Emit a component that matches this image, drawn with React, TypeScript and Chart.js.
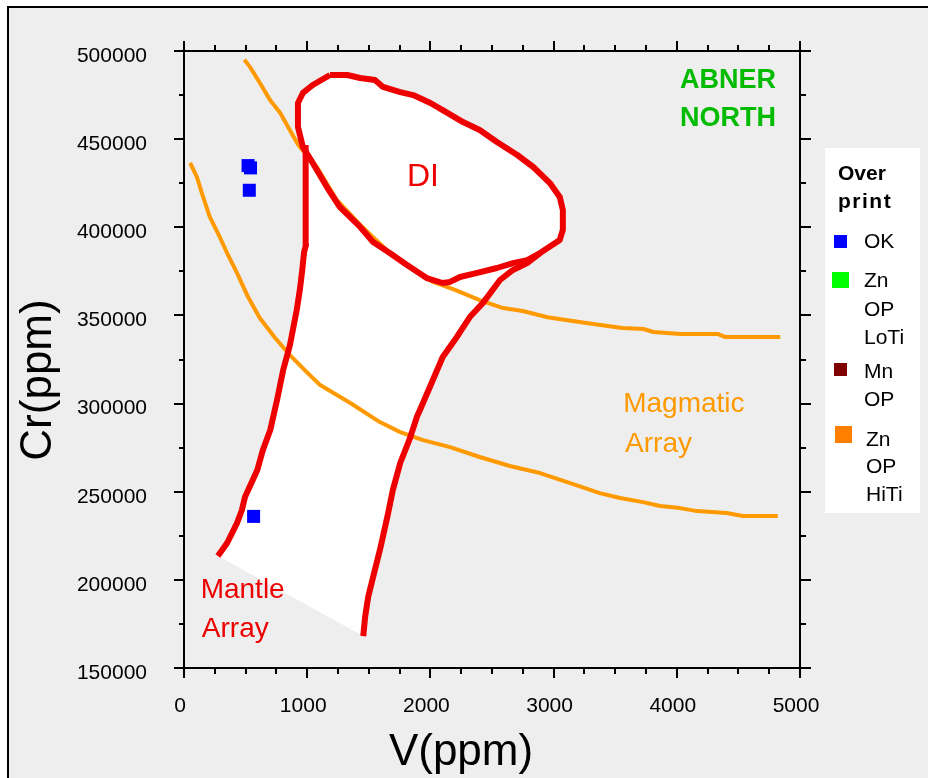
import React, { useEffect, useRef } from "react";
import { Chart, registerables } from "chart.js";

Chart.register(...registerables);

const FONT = '"Liberation Sans", Arial, Helvetica, sans-serif';

// ---- axes ----
const xMin = 0;
const xMax = 5000;
const xStep = 1000;
const xMinorStep = 250;
const yMin = 150000;
const yMax = 500000;
const yStep = 50000;
const yMinorStep = 25000;
const xTitle = "V(ppm)";
const yTitle = "Cr(ppm)";

// ---- Magmatic array, upper curve ----
const magUpperV = [490, 535, 615, 700, 780, 860, 925, 1080, 1240, 1450, 1670, 2020, 2200, 2400, 2590, 2750, 2950, 3210, 3380, 3560, 3730, 3810, 4030, 4330, 4390, 4840];
const magUpperCr = [495000, 491000, 482000, 472000, 465000, 455000, 447000, 434000, 415500, 400000, 385500, 369000, 364500, 358700, 354200, 352500, 349000, 346300, 344600, 342900, 342300, 340600, 339500, 339500, 337800, 337800];

// ---- Magmatic array, lower curve ----
const magLowerV = [50, 105, 155, 210, 290, 350, 430, 520, 615, 740, 860, 980, 1105, 1350, 1590, 1755, 1940, 2160, 2400, 2645, 2890, 3135, 3375, 3540, 3725, 3865, 4025, 4165, 4405, 4535, 4820];
const magLowerCr = [436500, 428500, 417200, 405800, 394500, 385400, 374100, 360400, 348500, 337200, 327500, 319000, 310500, 300300, 289500, 283800, 279300, 275300, 269700, 264600, 260600, 254900, 249200, 246400, 244100, 241900, 240700, 239000, 237900, 236200, 236200];

// ---- Mantle array, left boundary (bottom -> top) ----
const mantleLeftV = [275, 350, 430, 470, 495, 595, 640, 700, 755, 805, 860, 915, 940, 960, 975, 990, 990, 985];
const mantleLeftCr = [213500, 220900, 232200, 239600, 247000, 262300, 273600, 285000, 302000, 319000, 333200, 353100, 364400, 375800, 386000, 390000, 415500, 446700];

// ---- Mantle array, right boundary (top -> bottom) ----
const mantleRightV = [2890, 2785, 2670, 2565, 2425, 2320, 2215, 2100, 2020, 1940, 1890, 1835, 1755, 1695, 1650, 1590, 1535, 1495, 1470, 1455];
const mantleRightCr = [385400, 379700, 375800, 370100, 357000, 349100, 337800, 326400, 313400, 300300, 292400, 280500, 266300, 250900, 235600, 216900, 201600, 190300, 178900, 168100];

// ---- DI field (closed loop) ----
const diV = [1185, 1325, 1430, 1550, 1615, 1755, 1860, 2000, 2100, 2265, 2400, 2540, 2705, 2835, 2970, 3050, 3075, 3075, 3050, 2890, 2785, 2670, 2540, 2380, 2240, 2160, 2100, 1970, 1810, 1670, 1535, 1430, 1265, 1160, 1045, 965, 925, 925, 965, 1045];
const diCr = [486400, 486400, 484700, 483500, 479600, 476700, 475000, 470500, 466500, 459700, 455200, 448400, 441000, 434200, 425100, 417200, 409800, 398500, 392800, 385400, 381400, 379700, 376900, 374100, 371800, 369000, 368400, 371200, 378600, 385400, 391600, 400200, 411500, 422800, 436500, 445500, 456900, 470500, 476200, 480700];

// ---- samples: OK ----
const okV = [520, 540, 530, 565];
const okCr = [435000, 433700, 421000, 236000];

// ---- legend ----
const legendTitle = ["Over", "print"];
const legendLabels = [["OK"], ["Zn", "OP", "LoTi"], ["Mn", "OP"], ["Zn", "OP", "HiTi"]];
const legendColors = ["#0000ff", "#00ff00", "#800000", "#ff8000"];

// ---- annotations ----
const areaTitle = ["ABNER", "NORTH"];
const diLabel = "DI";
const magLabel = ["Magmatic", "Array"];
const mantleLabel = ["Mantle", "Array"];

const RED = "#ee0000";
const ORANGE = "#ff9900";
const GREEN = "#00bb00";

const pts = (xs: number[], ys: number[]) => xs.map((x, i) => ({ x, y: ys[i] }));

const decorPlugin = {
  id: "decor",
  beforeDraw(chart: any) {
    const { ctx, width, height } = chart;
    ctx.save();
    ctx.fillStyle = "#ffffff";
    ctx.fillRect(0, 0, width, height);
    ctx.fillStyle = "#eeeeee";
    ctx.fillRect(8, 7, width, height);
    ctx.strokeStyle = "#000";
    ctx.lineWidth = 2;
    ctx.beginPath();
    ctx.moveTo(8, height + 5);
    ctx.lineTo(8, 7);
    ctx.lineTo(width + 5, 7);
    ctx.stroke();
    ctx.restore();
  },
  afterDatasetsDraw(chart: any) {
    const { ctx, chartArea: a, scales } = chart;
    const xs = scales.x;
    const ys = scales.y;
    ctx.save();
    ctx.strokeStyle = "#000";
    ctx.lineWidth = 2;
    ctx.lineCap = "butt";
    ctx.beginPath();
    ctx.rect(a.left, a.top, a.right - a.left, a.bottom - a.top);
    ctx.stroke();
    ctx.beginPath();
    for (let v = xMin; v <= xMax + 1e-6; v += xMinorStep) {
      const p = Math.round(xs.getPixelForValue(v));
      const major = Math.abs(v % xStep) < 1e-6;
      const len = major ? 10 : 6;
      ctx.moveTo(p, a.bottom);
      ctx.lineTo(p, a.bottom + len);
      ctx.moveTo(p, a.top);
      ctx.lineTo(p, a.top - len);
    }
    for (let v = yMin; v <= yMax + 1e-6; v += yMinorStep) {
      const p = Math.round(ys.getPixelForValue(v));
      const major = Math.abs(v % yStep) < 1e-6;
      const len = major ? 10 : 5;
      ctx.moveTo(a.left, p);
      ctx.lineTo(a.left - len, p);
      ctx.moveTo(a.right, p);
      ctx.lineTo(a.right + (major ? 11 : 6), p);
    }
    ctx.stroke();
    ctx.restore();
  },
  afterDraw(chart: any) {
    const { ctx, scales } = chart;
    const xs = scales.x;
    const ys = scales.y;
    const X = (v: number) => xs.getPixelForValue(v);
    const Y = (v: number) => ys.getPixelForValue(v);
    ctx.save();

    // annotations inside plot
    ctx.textBaseline = "middle";
    ctx.textAlign = "center";
    ctx.fillStyle = GREEN;
    ctx.font = `bold 27px ${FONT}`;
    ctx.fillText(areaTitle[0], X(4415), Y(483300));
    ctx.fillText(areaTitle[1], X(4415), Y(461700));

    ctx.fillStyle = RED;
    ctx.font = `32px ${FONT}`;
    ctx.fillText(diLabel, X(1940), Y(428500));

    ctx.textAlign = "left";
    ctx.textBaseline = "alphabetic";
    ctx.font = `28px ${FONT}`;
    ctx.fillText(mantleLabel[0], X(135), Y(189500));
    ctx.fillText(mantleLabel[1], X(145), Y(167750));

    ctx.fillStyle = ORANGE;
    ctx.fillText(magLabel[0], X(3565), Y(295200));
    ctx.fillText(magLabel[1], X(3580), Y(272500));

    // axis titles
    ctx.fillStyle = "#000";
    ctx.font = `44px ${FONT}`;
    ctx.textAlign = "center";
    ctx.textBaseline = "alphabetic";
    ctx.fillText(xTitle, 461, 765);
    ctx.save();
    ctx.translate(51, 380);
    ctx.rotate(-Math.PI / 2);
    ctx.fillText(yTitle, 0, 0);
    ctx.restore();

    // legend
    ctx.fillStyle = "#ffffff";
    ctx.fillRect(825, 148, 95, 365);
    ctx.fillStyle = "#000";
    ctx.textAlign = "left";
    ctx.font = `bold 21px ${FONT}`;
    ctx.fillText(legendTitle[0], 838, 180);
    (ctx as any).letterSpacing = "1.5px";
    ctx.fillText(legendTitle[1], 838, 208);
    (ctx as any).letterSpacing = "0px";

    const boxes = [
      [834, 235, 13, 13],
      [832, 272, 17, 16],
      [834, 363, 13, 13],
      [835, 426, 17, 17],
    ];
    const baselines = [[248], [287, 316, 344], [378, 406], [446, 473, 501]];
    const textX = [864, 864, 864, 866];
    ctx.font = `21px ${FONT}`;
    legendLabels.forEach((lines, i) => {
      const b = boxes[i];
      ctx.fillStyle = legendColors[i];
      ctx.fillRect(b[0], b[1], b[2], b[3]);
      ctx.fillStyle = "#000";
      lines.forEach((t, j) => ctx.fillText(t, textX[i], baselines[i][j]));
    });
    ctx.restore();
  },
};

export default function App() {
  const ref = useRef<HTMLCanvasElement>(null);
  useEffect(() => {
    const canvas = ref.current!;
    const ellipse = pts(diV, diCr);
    ellipse.push({ ...ellipse[0] });
    const mantleLeft = pts(mantleLeftV, mantleLeftCr);
    const mantleRight = pts(mantleRightV, mantleRightCr);
    const mantleShape = [...mantleLeft, ...mantleRight, { ...mantleLeft[0] }];
    const lineDs = (label: string, data: any[], color: string, width: number, order: number) => ({
      label,
      data,
      borderColor: color,
      borderWidth: width,
      pointRadius: 0,
      fill: false,
      tension: 0,
      borderJoinStyle: "round",
      borderCapStyle: "butt",
      order,
    });
    const fillDs = (label: string, data: any[]) => ({
      label,
      data,
      borderColor: "rgba(0,0,0,0)",
      borderWidth: 0,
      backgroundColor: "#ffffff",
      pointRadius: 0,
      fill: "shape",
      tension: 0,
      order: 10,
    });
    const chart = new Chart(canvas, {
      type: "line",
      data: {
        datasets: [
          {
            label: "OK",
            data: pts(okV, okCr),
            showLine: false,
            pointStyle: "rect",
            pointRadius: 9.2,
            pointBackgroundColor: "#0000ff",
            pointBorderWidth: 0,
            pointBorderColor: "#0000ff",
            order: 1,
          } as any,
          lineDs("DI", ellipse, RED, 6, 2),
          lineDs("Mantle array left", mantleLeft, RED, 6, 2),
          lineDs("Mantle array right", mantleRight, RED, 6, 2),
          lineDs("Magmatic upper", pts(magUpperV, magUpperCr), ORANGE, 4, 3),
          lineDs("Magmatic lower", pts(magLowerV, magLowerCr), ORANGE, 4, 3),
          fillDs("DI fill", ellipse),
          fillDs("Mantle fill", mantleShape),
        ],
      },
      options: {
        responsive: false,
        animation: false,
        devicePixelRatio: 1,
        events: [],
        layout: { padding: { left: 0, top: 51, right: 128, bottom: 0 } },
        plugins: { legend: { display: false }, tooltip: { enabled: false } },
        scales: {
          x: {
            type: "linear",
            min: xMin,
            max: xMax,
            afterFit: (s: any) => {
              s.height = 110;
            },
            grid: { display: false, drawTicks: false },
            border: { display: false },
            ticks: {
              stepSize: xStep,
              autoSkip: false,
              maxRotation: 0,
              padding: 26,
              labelOffset: -4,
              color: "#000",
              font: { family: FONT, size: 21 },
              callback: (v: any) => String(v),
            },
          },
          y: {
            type: "linear",
            min: yMin,
            max: yMax,
            afterFit: (s: any) => {
              s.width = 184;
            },
            grid: { display: false, drawTicks: false },
            border: { display: false },
            ticks: {
              stepSize: yStep,
              autoSkip: false,
              padding: 37,
              labelOffset: 5,
              color: "#000",
              font: { family: FONT, size: 21 },
              callback: (v: any) => String(v),
            },
          },
        },
      } as any,
      plugins: [decorPlugin],
    });
    return () => chart.destroy();
  }, []);

  return (
    <div style={{ position: "fixed", left: 0, top: 0, width: 928, height: 778, overflow: "hidden", background: "#fff" }}>
      <canvas ref={ref} width={928} height={778} style={{ display: "block", width: 928, height: 778 }} />
    </div>
  );
}
